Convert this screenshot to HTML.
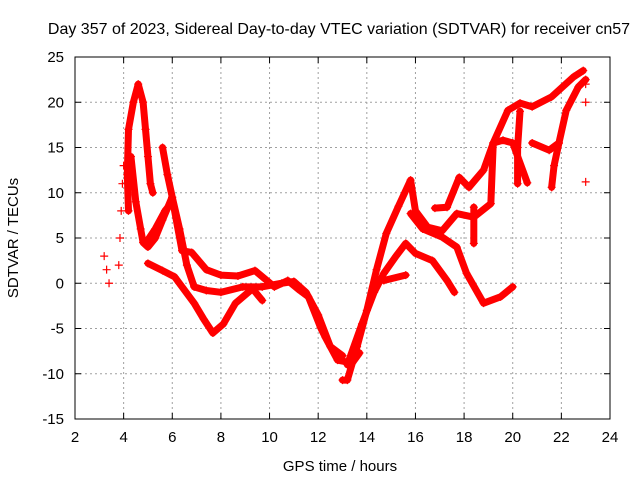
<!DOCTYPE html>
<html><head><meta charset="utf-8">
<style>
html,body{margin:0;padding:0;background:#fff;}
svg{display:block;font-family:"Liberation Sans",sans-serif;}
</style></head>
<body>
<svg id="chart" width="640" height="480" viewBox="0 0 640 480" xmlns="http://www.w3.org/2000/svg">
<rect width="640" height="480" fill="#fff"/>
<text x="339" y="34" font-size="16" text-anchor="middle">Day 357 of 2023, Sidereal Day-to-day VTEC variation (SDTVAR) for receiver cn57</text>
<g id="grid"></g>
<g id="series"></g>
<g id="axes"></g>
<text x="340" y="471" font-size="15" text-anchor="middle">GPS time / hours</text>
<text transform="translate(18,238) rotate(-90)" font-size="15" text-anchor="middle">SDTVAR / TECUs</text>
</svg>
<script>
const xTicks = [2,4,6,8,10,12,14,16,18,20,22,24];
const yTicks = [-15,-10,-5,0,5,10,15,20,25];
const trackA = [[3.2,3],[3.3,1.5],[3.4,0]];
const trackB = [[3.8,2],[3.85,5],[3.9,8],[3.95,11],[4.0,13]];
const trackC = [[4.2,8],[4.15,12],[4.2,17],[4.4,20],[4.6,22],[4.8,20],[4.9,17],[5.0,14],[5.1,11],[5.2,10]];
const trackD = [[4.3,14],[4.5,9],[4.7,6],[4.8,4.5],[5.0,4],[5.3,5],[5.6,7],[5.99,9.5],[6.4,3.6],[6.8,3.4],[7.4,1.5],[8.0,0.9],[8.7,0.8],[9.4,1.4],[10.2,-0.4],[10.75,0.3],[11.25,-0.8],[11.6,-1.5],[12.1,-4.9],[12.3,-6],[12.8,-8.5],[13.4,-8.8],[13.7,-7.7]];
const trackE = [[5.6,15],[5.8,12],[6.0,9.5],[6.3,6],[6.6,2],[6.9,-0.4],[7.4,-0.8],[8.0,-1],[8.9,-0.4],[9.7,-0.4],[10.5,0],[11.0,0.2],[11.5,-1],[12.0,-3.5],[12.5,-7],[13.0,-8]];
const trackF = [[5.0,2.2],[5.6,1.4],[6.1,0.7],[6.9,-2.2],[7.3,-4],[7.67,-5.5],[8.1,-4.5],[8.6,-2.2],[9.3,-0.6],[9.7,-1.9]];
const trackG = [[4.9,4.4],[5.3,6],[5.7,8],[6.0,9]];
const trackH = [[13.0,-10.7],[13.2,-10.7],[13.6,-7],[14.0,-3],[14.4,1.5],[14.8,5.5],[15.3,8.5],[15.8,11.4],[16.0,8],[16.5,6.2],[17.1,5.8],[17.7,7.7],[18.4,7.3],[19.1,8.8],[19.2,15.5],[19.8,19.1],[20.3,19.9],[20.8,19.5],[21.6,20.6],[22.5,22.8],[22.9,23.5]];
const trackI = [[13.2,-9],[13.8,-4.5],[14.3,-1],[14.7,1.1],[15.2,3],[15.6,4.4],[16.0,3.3],[16.7,2.5],[17.3,0.3],[17.6,-1]];
const trackJ = [[15.8,7.7],[16.3,6],[17.1,5.1],[17.7,4],[18.1,1.1],[18.8,-2.2],[19.5,-1.5],[20.0,-0.4]];
const trackK = [[16.8,8.3],[17.3,8.4],[17.8,11.7],[18.2,10.6],[18.8,12.5],[19.2,15.5],[19.6,15.8],[20.0,15.5],[20.6,11.1]];
const trackL = [[20.3,19],[20.2,15],[20.2,11]];
const trackM = [[20.8,15.5],[21.5,14.7],[21.9,15.5],[22.2,19.1],[22.7,21.7],[23.0,22.5]];
const trackN = [[21.6,10.6],[21.7,13],[21.9,15.5]];
const trackO = [[14.7,0.3],[15.6,0.9]];
const trackP = [[18.4,8.4],[18.4,4.4]];
const trackQ = [[23.0,22],[23.0,20]];
const trackR = [[23.0,11.2]];
const tracks = [trackA,trackB,trackC,trackD,trackE,trackF,trackG,trackH,trackI,trackJ,trackK,trackL,trackM,trackN,trackO,trackP,trackQ,trackR];
const thin = [true,true,false,false,false,false,false,false,false,false,false,false,false,false,false,false,true,true];

const L=75,R=610,T=57,B=419, x0=2,x1=24,y0=-15,y1=25;
const sx=v=>L+(v-x0)/(x1-x0)*(R-L);
const sy=v=>B-(v-y0)/(y1-y0)*(B-T);
const NS="http://www.w3.org/2000/svg";
function mk(tag,attrs,parent){const e=document.createElementNS(NS,tag);for(const k in attrs)e.setAttribute(k,attrs[k]);parent.appendChild(e);return e;}
const grid=document.getElementById('grid'),axes=document.getElementById('axes'),ser=document.getElementById('series');
xTicks.forEach(t=>{
  const x=sx(t);
  if(t>x0&&t<x1){const g=mk('line',{x1:x,x2:x,y1:T,y2:B,stroke:'#a0a0a0','stroke-dasharray':'2,3','stroke-width':1},grid);
  
  }
  const a=mk('line',{x1:x,x2:x,y1:B,y2:B-6,stroke:'#000'},axes);
  
  
  mk('line',{x1:x,x2:x,y1:T,y2:T+6,stroke:'#000'},axes);
  const lb=mk('text',{x:x,y:B+23,'font-size':15,'text-anchor':'middle'},axes);lb.textContent=t;
  
  
});
yTicks.forEach(t=>{
  const y=sy(t);
  if(t>y0&&t<y1){const g=mk('line',{x1:L,x2:R,y1:y,y2:y,stroke:'#a0a0a0','stroke-dasharray':'2,3','stroke-width':1},grid);
  
  }
  const a=mk('line',{x1:L,x2:L+6,y1:y,y2:y,stroke:'#000'},axes);
  
  
  mk('line',{x1:R,x2:R-6,y1:y,y2:y,stroke:'#000'},axes);
  const lb=mk('text',{x:L-11,y:y+5,'font-size':15,'text-anchor':'end'},axes);lb.textContent=t;
  
  
});
const fr=mk('rect',{x:L,y:T,width:R-L,height:B-T,fill:'none',stroke:'#000'},axes);


tracks.forEach((tr,i)=>{
  if(tr.length>1&&!thin[i]){
    const pl=mk('polyline',{points:tr.map(p=>sx(p[0])+','+sy(p[1])).join(' '),fill:'none',stroke:'#f00','stroke-width':7,'stroke-linejoin':'round','stroke-linecap':'round'},ser);
    
    
  }
  tr.forEach(p=>{
    const x=sx(p[0]),y=sy(p[1]);
    const m=mk('path',{d:`M${x-4},${y}H${x+4}M${x},${y-4}V${y+4}`,stroke:'#f00','stroke-width':1.2,fill:'none'},ser);
    
    
  });
});
</script>
</body></html>
